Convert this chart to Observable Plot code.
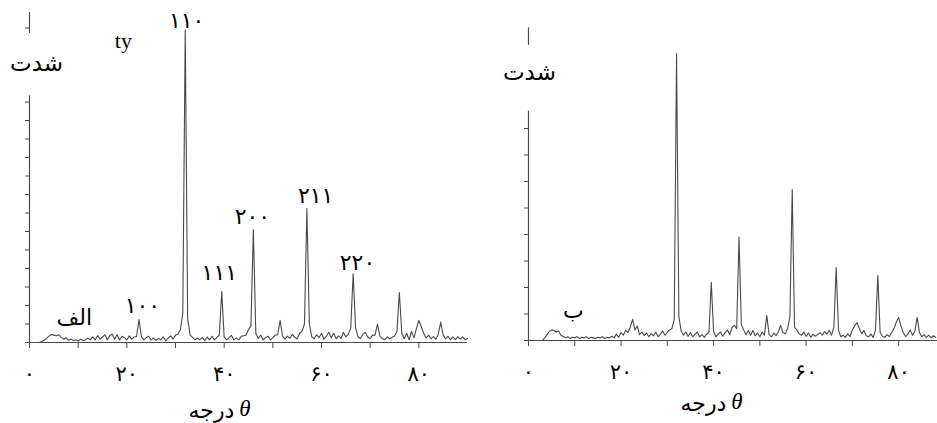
<!DOCTYPE html>
<html><head><meta charset="utf-8">
<script src="https://cdn.jsdelivr.net/npm/d3@7"></script>
<script src="https://cdn.jsdelivr.net/npm/@observablehq/plot@0.6"></script>
<style>
body{margin:0;background:#fff;}
#wrap{display:flex;width:937px;height:423px;overflow:hidden;background:#fff;}
</style></head><body><div id="wrap"></div>
<script>
// Panel A (الف): 2θ grid 2..90 step 0.5
const thetaA = d3.range(2, 90.001, 0.5);
const intensityA = [
  0.00,0.05,0.12,0.22,0.34,0.44,0.40,0.36,0.42,0.28,
  0.18,0.26,0.12,0.18,0.10,0.15,0.08,0.18,0.10,0.14,
  0.24,0.14,0.30,0.14,0.38,0.18,0.30,0.42,0.14,0.38,
  0.45,0.18,0.42,0.14,0.34,0.26,0.14,0.36,0.18,0.30,
  0.32,1.24,0.30,0.14,0.26,0.34,0.14,0.24,0.12,0.22,
  0.15,0.30,0.10,0.24,0.36,0.18,0.40,0.45,0.70,1.60,
  16.9,1.30,0.40,0.28,0.14,0.24,0.14,0.26,0.10,0.30,
  0.14,0.34,0.14,0.28,0.40,2.76,0.30,0.14,0.26,0.38,
  0.14,0.24,0.14,0.34,0.36,0.40,0.70,0.90,6.10,0.50,
  0.22,0.40,0.14,0.26,0.34,0.14,0.26,0.40,0.42,1.20,
  0.34,0.18,0.34,0.22,0.45,0.28,0.20,0.50,0.60,1.00,
  7.24,1.00,0.30,0.20,0.42,0.26,0.50,0.18,0.34,0.55,
  0.26,0.50,0.20,0.36,0.22,0.55,0.30,0.45,0.75,3.72,
  0.80,0.30,0.22,0.45,0.55,0.30,0.22,0.40,0.40,1.00,
  0.35,0.20,0.15,0.30,0.20,0.28,0.35,0.60,2.70,0.50,
  0.20,0.50,0.15,0.60,0.25,0.75,1.20,0.85,0.50,0.25,
  0.40,0.20,0.32,0.18,0.45,1.10,0.40,0.20,0.34,0.15,
  0.30,0.15,0.32,0.18,0.30,0.15,0.22
];
// Panel B (ب): 2θ grid 3..88 step 0.5
const thetaB = d3.range(3, 88.001, 0.5);
const intensityB = [
  0.00,0.10,0.22,0.34,0.40,0.38,0.32,0.36,0.20,0.15,
  0.10,0.14,0.08,0.12,0.10,0.14,0.08,0.12,0.10,0.14,
  0.08,0.12,0.10,0.08,0.12,0.10,0.14,0.08,0.12,0.10,
  0.16,0.10,0.24,0.12,0.30,0.20,0.38,0.30,0.50,0.80,
  0.40,0.55,0.22,0.32,0.18,0.28,0.14,0.26,0.18,0.32,
  0.14,0.24,0.36,0.20,0.32,0.40,0.45,0.80,10.83,0.90,
  0.35,0.20,0.32,0.15,0.30,0.14,0.24,0.32,0.14,0.22,
  0.12,0.24,0.30,2.20,0.35,0.14,0.24,0.32,0.16,0.30,
  0.40,0.22,0.50,0.57,0.45,3.90,0.60,0.40,0.22,0.38,
  0.20,0.38,0.18,0.28,0.14,0.32,0.20,0.94,0.22,0.14,
  0.28,0.18,0.32,0.57,0.30,0.25,0.45,0.90,5.70,0.50,
  0.40,0.25,0.20,0.32,0.15,0.28,0.12,0.24,0.16,0.22,
  0.30,0.20,0.34,0.24,0.38,0.20,0.50,2.75,0.40,0.14,
  0.20,0.12,0.25,0.15,0.40,0.55,0.68,0.45,0.25,0.38,
  0.18,0.14,0.24,0.12,0.40,2.45,0.30,0.16,0.12,0.22,
  0.15,0.30,0.45,0.70,0.87,0.55,0.30,0.15,0.24,0.40,
  0.20,0.35,0.87,0.30,0.14,0.22,0.12,0.20,0.10,0.18,
  0.12
];
const minorTicks = [0,10,20,30,40,50,60,70,80];
const majorTicks = [0,20,40,60,80];
const majorTickText = ["۰","۲۰","۴۰","۶۰","۸۰"];
const peakNames = ["۱۰۰","۱۱۰","۱۱۱","۲۰۰","۲۱۱","۲۲۰"];
const peakLabelX = [23.2, 32.3, 39.0, 45.8, 58.8, 67.4];
const peakLabelY = [2.0, 17.4, 3.78, 6.8, 7.9, 4.3];
const yLabel = "شدت";
const xLabelWord = "درجه";
const xLabelSym = "θ";
const panelNames = ["الف", "ب"];
const strayText = "ty";

const FONT = '"Liberation Serif", "DejaVu Sans", serif';
const INK = "#4a4a4a";

function panel(cfg) {
  const series = cfg.theta.map((t, i) => ({t, v: cfg.values[i]}));
  const marks = [
    Plot.ruleY([0], {stroke: INK, strokeWidth: 1.2}),
    Plot.axisX(minorTicks, {tickSize: 6, tickFormat: () => "", stroke: INK, label: null}),
    Plot.axisX(majorTicks, {tickSize: 0, tickPadding: 24, fontSize: 21,
      tickFormat: d => majorTickText[majorTicks.indexOf(d)], label: null}),
    Plot.axisY(d3.range(0, cfg.yTickMax + 1), {tickSize: 4, tickFormat: () => "", stroke: INK, label: null}),
    Plot.ruleX([0], {y1: 0, y2: cfg.yTop, stroke: INK, strokeWidth: 1.2}),
    Plot.line(series, {x: "t", y: "v", stroke: INK, strokeWidth: 1.1}),
    Plot.dot([cfg.yLab], {x: "x", y: "y", dy: cfg.gapDy, r: cfg.gapR, fill: "white", stroke: null}),
    Plot.text([cfg.yLab], {x: "x", y: "y", text: () => yLabel, fontSize: 23}),
    Plot.text([cfg.nameLab], {x: "x", y: "y", text: () => cfg.name, fontSize: 22}),
    Plot.text([cfg.titlePos], {x: "x", y: 0, dy: cfg.titleDy, dx: -2, text: () => xLabelWord, textAnchor: "end", fontSize: 22}),
    Plot.text([cfg.titlePos], {x: "x", y: 0, dy: cfg.titleDy - 2, dx: 3, text: () => xLabelSym, textAnchor: "start", fontSize: 23, fontStyle: "italic"})
  ];
  if (cfg.peaks) {
    marks.push(Plot.text(peakNames, {x: (d, i) => peakLabelX[i], y: (d, i) => peakLabelY[i], text: d => d, fontSize: 22}));
    marks.push(Plot.text([cfg.stray], {x: "x", y: "y", text: () => strayText, fontSize: 22}));
  }
  return Plot.plot({
    width: cfg.width, height: 423,
    marginLeft: cfg.ml, marginRight: cfg.mr, marginTop: cfg.mt, marginBottom: cfg.mb,
    x: {domain: cfg.xDomain, label: null},
    y: {domain: cfg.yDomain, label: null},
    style: {fontFamily: FONT, background: "white", color: "black", overflow: "visible"},
    marks
  });
}

const wrap = document.getElementById("wrap");
wrap.append(panel({
  theta: thetaA, values: intensityA, width: 470, ml: 29, mr: 3, mt: 9, mb: 81,
  xDomain: [0, 90], yDomain: [0, 18], yTickMax: 17, yTop: 17.84,
  yLab: {x: 1.44, y: 15.1}, gapR: 32, gapDy: 1,
  name: panelNames[0], nameLab: {x: 9.2, y: 1.3},
  titlePos: {x: 42.5}, titleDy: 68,
  peaks: true, stray: {x: 19.3, y: 16.3}
}));
wrap.append(panel({
  theta: thetaB, values: intensityB, width: 467, ml: 58, mr: 0, mt: 22, mb: 83,
  xDomain: [0, 88.4], yDomain: [0, 12], yTickMax: 11, yTop: 11.8,
  yLab: {x: 0.2, y: 10.1}, gapR: 33, gapDy: 5,
  name: panelNames[1], nameLab: {x: 9.7, y: 1.13},
  titlePos: {x: 43.2}, titleDy: 63,
  peaks: false
}));
</script></body></html>
